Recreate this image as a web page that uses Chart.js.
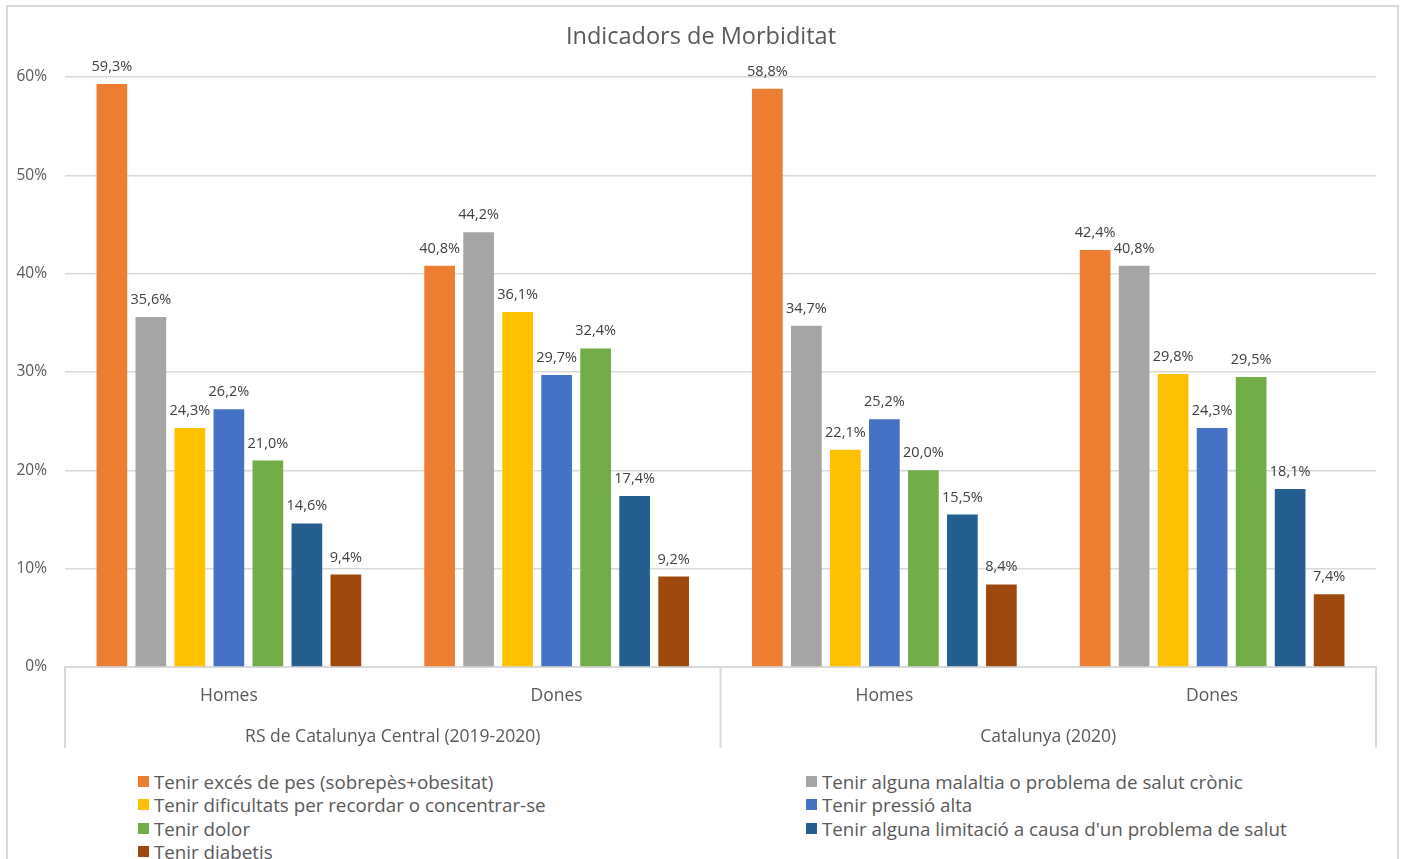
<!DOCTYPE html>
<html lang="ca">
<head>
<meta charset="utf-8">
<title>Indicadors de Morbiditat</title>
<script src="https://cdn.jsdelivr.net/npm/chart.js@4/dist/chart.umd.min.js"></script>
<style>
    html, body { margin: 0; padding: 0; background: #fff; }
    body { width: 1402px; height: 859px; position: relative; overflow: hidden; font-family: "Open Sans", sans-serif; }
    #frame { position: absolute; left: 6px; top: 5px; width: 1389px; height: 900px; border: 2px solid #d9d9d9; }
    #morbChart { position: absolute; left: 0; top: 0; }
    #legend { position: absolute; left: 138px; top: 770px; display: grid; grid-template-columns: 668px auto; }
    .lg-item { display: flex; align-items: center; height: 23.3px; font-size: 18.75px; color: #595959; white-space: nowrap; }
    .lg-box { width: 11px; height: 11px; margin-right: 5px; flex: none; }
</style>
</head>
<body>
<div id="frame"></div>
<canvas id="morbChart" width="1402" height="760"></canvas>
<div id="legend"></div>

<script>
// categories: sex (inner level) and territory (outer level)
const sexLabels = ['Homes', 'Dones', 'Homes', 'Dones'];
const areaLabels = ['RS de Catalunya Central (2019-2020)', 'Catalunya (2020)'];

// indicators, in %
const seriesNames = [
    'Tenir excés de pes (sobrepès+obesitat)',
    'Tenir alguna malaltia o problema de salut crònic',
    'Tenir dificultats per recordar o concentrar-se',
    'Tenir pressió alta',
    'Tenir dolor',
    "Tenir alguna limitació a causa d'un problema de salut",
    'Tenir diabetis'
];
const excesPes   = [59.3, 40.8, 58.8, 42.4];
const cronic     = [35.6, 44.2, 34.7, 40.8];
const recordar   = [24.3, 36.1, 22.1, 29.8];
const pressio    = [26.2, 29.7, 25.2, 24.3];
const dolor      = [21.0, 32.4, 20.0, 29.5];
const limitacio  = [14.6, 17.4, 15.5, 18.1];
const diabetis   = [9.4, 9.2, 8.4, 7.4];
const seriesValues = [excesPes, cronic, recordar, pressio, dolor, limitacio, diabetis];
const seriesColors = ['#ED7D31', '#A5A5A5', '#FFC000', '#4472C4', '#70AD47', '#255E91', '#9E480E'];

const yTicks = [0, 10, 20, 30, 40, 50, 60];

const GRID = '#d9d9d9';
const TEXT = '#595959';
const FONT = '"Open Sans", sans-serif';
const TITLE = 'Indicadors de Morbiditat';

const fmtPct = v => v.toFixed(1).replace('.', ',') + '%';

// title centred on the whole canvas (not on the plot area)
const centredTitle = {
    id: 'centredTitle',
    afterDraw(chart) {
        const ctx = chart.ctx;
        ctx.save();
        ctx.font = '23.5px ' + FONT;
        ctx.fillStyle = TEXT;
        ctx.textAlign = 'center';
        ctx.textBaseline = 'middle';
        ctx.fillText(TITLE, chart.width / 2, 37);
        ctx.restore();
    }
};

// value labels over each bar
const barLabels = {
    id: 'barLabels',
    afterDatasetsDraw(chart) {
        const ctx = chart.ctx;
        ctx.save();
        ctx.font = '14.5px ' + FONT;
        ctx.fillStyle = '#404040';
        ctx.textAlign = 'center';
        ctx.textBaseline = 'alphabetic';
        chart.data.datasets.forEach((ds, i) => {
            chart.getDatasetMeta(i).data.forEach((bar, j) => {
                ctx.fillText(fmtPct(ds.data[j]), bar.x, bar.y - 13);
            });
        });
        ctx.restore();
    }
};

// vertical separators of the two-level category axis
const groupLines = {
    id: 'groupLines',
    afterDraw(chart) {
        const area = chart.chartArea;
        const outer = chart.scales.x2;
        const mid = (outer.getPixelForValue(0) + outer.getPixelForValue(1)) / 2;
        const ctx = chart.ctx;
        ctx.save();
        ctx.strokeStyle = GRID;
        ctx.lineWidth = 2;
        [area.left, mid, area.right].forEach(x => {
            ctx.beginPath();
            ctx.moveTo(x, area.bottom);
            ctx.lineTo(x, outer.bottom);
            ctx.stroke();
        });
        ctx.restore();
    }
};

const chart = new Chart(document.getElementById('morbChart'), {
    type: 'bar',
    data: {
        labels: sexLabels,
        datasets: seriesNames.map((name, i) => ({
            label: name,
            data: seriesValues[i],
            backgroundColor: seriesColors[i],
            borderWidth: 0,
            categoryPercentage: 0.833,
            barPercentage: 0.787
        }))
    },
    options: {
        responsive: false,
        animation: false,
        layout: { padding: { left: 8, right: 26, top: 77, bottom: 12 } },
        plugins: {
            legend: { display: false },
            tooltip: { enabled: false },
            title: { display: false }
        },
        scales: {
            y: {
                min: 0,
                max: 60,
                afterBuildTicks: s => { s.ticks = yTicks.map(v => ({ value: v })); },
                afterFit: s => { s.width = 57; },
                ticks: {
                    callback: v => v + '%',
                    color: TEXT,
                    padding: 18,
                    font: { family: FONT, size: 15.5 }
                },
                grid: { color: GRID, lineWidth: 1.5, drawTicks: false },
                border: { display: false }
            },
            x: {
                weight: 0,
                afterFit: s => { s.height = 41; },
                ticks: {
                    color: TEXT,
                    padding: 19,
                    font: { family: FONT, size: 17.5 }
                },
                grid: { display: false, drawTicks: false },
                border: { display: true, color: GRID, width: 2 }
            },
            x2: {
                type: 'category',
                position: 'bottom',
                weight: 1,
                labels: areaLabels,
                offset: true,
                afterFit: s => { s.height = 40; },
                ticks: {
                    color: TEXT,
                    padding: 19,
                    font: { family: FONT, size: 17.5 }
                },
                grid: { display: false, drawTicks: false },
                border: { display: false }
            }
        }
    },
    plugins: [barLabels, groupLines, centredTitle]
});

// two-column legend under the chart
const legendEl = document.getElementById('legend');
chart.data.datasets.forEach(ds => {
    const item = document.createElement('div');
    item.className = 'lg-item';
    const box = document.createElement('span');
    box.className = 'lg-box';
    box.style.background = ds.backgroundColor;
    item.appendChild(box);
    item.appendChild(document.createTextNode(ds.label));
    legendEl.appendChild(item);
});
</script>
</body>
</html>
